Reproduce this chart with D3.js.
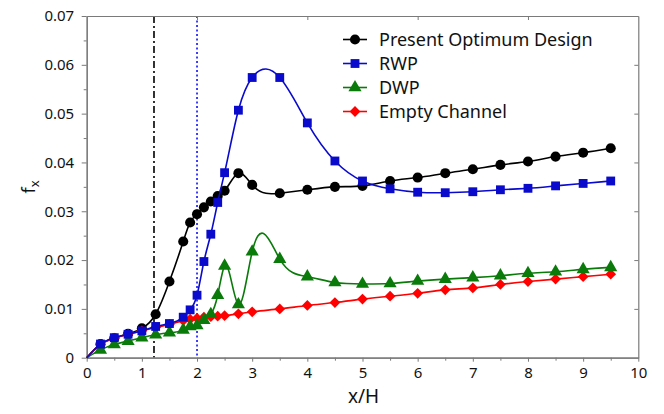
<!DOCTYPE html>
<html><head><meta charset="utf-8">
<script src="https://cdn.jsdelivr.net/npm/d3@7"></script>
<style>body{margin:0;background:#fff}svg{display:block}</style>
</head><body>
<svg id="c" width="664" height="414"></svg>
<script>
// ---- data ----
const xOpt = [0,0.25,0.5,0.75,1,1.25,1.5,1.75,1.875,2,2.125,2.25,2.375,2.5,2.75,3,3.5,4,4.5,5,5.5,6,6.5,7,7.5,8,8.5,9,9.5];
const yOpt = [0,0.0028,0.0040,0.0049,0.0060,0.0089,0.0156,0.0238,0.0277,0.0294,0.0308,0.0320,0.0331,0.0342,0.0378,0.0354,0.0337,0.0344,0.0350,0.0352,0.0362,0.0369,0.0378,0.0386,0.0395,0.0402,0.0412,0.0420,0.0429];
const yRWP = [0,0.0028,0.0041,0.0048,0.0055,0.0064,0.0070,0.0083,0.0098,0.0128,0.0197,0.0253,0.0318,0.0379,0.0507,0.0574,0.0574,0.0481,0.0403,0.0362,0.0346,0.0339,0.0338,0.0340,0.0344,0.0347,0.0352,0.0357,0.0362];
const yDWP = [0,0.0016,0.0027,0.0034,0.0041,0.0047,0.0051,0.0057,0.0064,0.0066,0.0077,0.0089,0.0128,0.0188,0.0109,0.0217,0.0202,0.0166,0.0154,0.0151,0.0152,0.0157,0.0161,0.0164,0.0168,0.0173,0.0176,0.0181,0.0185];
const yEmpty = [0,0.0027,0.0040,0.0048,0.0055,0.0062,0.0068,0.0076,0.0079,0.0081,0.0083,0.0084,0.0085,0.0086,0.0090,0.0094,0.0100,0.0107,0.0113,0.0120,0.0126,0.0132,0.0139,0.0143,0.0150,0.0156,0.0161,0.0166,0.0171];
const seriesNames = ["Present Optimum Design","RWP","DWP","Empty Channel"];
const xTicks = [0,1,2,3,4,5,6,7,8,9,10];
const yTicks = [0,0.01,0.02,0.03,0.04,0.05,0.06,0.07];
const vLineA = 1.22, vLineB = 2.0;

// ---- custom curve: natural cubic spline y(x) ----
function SplineX(context){ this._context = context; }
SplineX.prototype = {
  areaStart(){ this._line = 0; }, areaEnd(){ this._line = NaN; },
  lineStart(){ this._x = []; this._y = []; },
  point(x, y){ this._x.push(+x); this._y.push(+y); },
  lineEnd(){
    const X = this._x, Y = this._y, n = X.length, c = this._context;
    if(!n) return;
    c.moveTo(X[0], Y[0]);
    if(n < 3){ for(let i=1;i<n;i++) c.lineTo(X[i],Y[i]); return; }
    // solve for second derivatives M (natural: M0 = Mn-1 = 0)
    const h = [], a = [], b = [], cc = [], r = [];
    for(let i=0;i<n-1;i++) h[i] = X[i+1]-X[i];
    for(let i=1;i<n-1;i++){
      a[i] = h[i-1]; b[i] = 2*(h[i-1]+h[i]); cc[i] = h[i];
      r[i] = 6*((Y[i+1]-Y[i])/h[i] - (Y[i]-Y[i-1])/h[i-1]);
    }
    const M = new Array(n).fill(0);
    const cp = [], rp = [];
    for(let i=1;i<n-1;i++){
      const den = b[i] - (i>1 ? a[i]*cp[i-1] : 0);
      cp[i] = cc[i]/den;
      rp[i] = (r[i] - (i>1 ? a[i]*rp[i-1] : 0))/den;
    }
    for(let i=n-2;i>=1;i--) M[i] = rp[i] - (i<n-2 ? cp[i]*M[i+1] : 0);
    for(let i=0;i<n-1;i++){
      const hi = h[i];
      const d0 = (Y[i+1]-Y[i])/hi - hi*(2*M[i]+M[i+1])/6;
      const d1 = (Y[i+1]-Y[i])/hi + hi*(M[i]+2*M[i+1])/6;
      c.bezierCurveTo(X[i]+hi/3, Y[i]+d0*hi/3, X[i+1]-hi/3, Y[i+1]-d1*hi/3, X[i+1], Y[i+1]);
    }
  }
};
const curveSplineX = ctx => new SplineX(ctx);

// ---- layout ----
const svg = d3.select("#c");
const L = 86.7, R = 638.3, T = 16, B = 357.7;
const x = d3.scaleLinear().domain([0,10]).range([L,R]);
const y = d3.scaleLinear().domain([0,0.07]).range([B,T]);
const font = "'Noto Sans', sans-serif";
const spine = "#7a7a7a";

// vertical reference lines
svg.append("line").attr("x1",x(vLineA)).attr("x2",x(vLineA)).attr("y1",T).attr("y2",B)
  .attr("stroke","#000").attr("stroke-width",1.6).attr("stroke-dasharray","7,3,2,3");
svg.append("line").attr("x1",x(vLineB)).attr("x2",x(vLineB)).attr("y1",T).attr("y2",B)
  .attr("stroke","#2a2aff").attr("stroke-width",1.8).attr("stroke-dasharray","2,2.5");

// axes
const gB = svg.append("g").attr("transform",`translate(0,${B})`)
  .call(d3.axisBottom(x).tickValues(xTicks).tickFormat(d3.format("d")).tickSize(4).tickSizeOuter(0));
const gBm = svg.append("g").attr("transform",`translate(0,${B})`)
  .call(d3.axisBottom(x).tickValues(d3.range(0.5,10,1)).tickFormat("").tickSize(3).tickSizeOuter(0));
const gL = svg.append("g").attr("transform",`translate(${L},0)`)
  .call(d3.axisLeft(y).tickValues(yTicks).tickFormat(d=>d===0?"0":d3.format(".2f")(d)).tickSize(5).tickSizeOuter(0));
const gLm = svg.append("g").attr("transform",`translate(${L},0)`)
  .call(d3.axisLeft(y).tickValues(d3.range(0.005,0.07,0.01)).tickFormat("").tickSize(3).tickSizeOuter(0));
const gT = svg.append("g").attr("transform",`translate(0,${T})`)
  .call(d3.axisBottom(x).tickValues([2,4,6,8]).tickFormat("").tickSize(4).tickSizeOuter(0));
const gR = svg.append("g").attr("transform",`translate(${R},0)`)
  .call(d3.axisLeft(y).tickValues(yTicks.slice(1,-1)).tickFormat("").tickSize(4).tickSizeOuter(0));
[gB,gBm,gL,gLm,gT,gR].forEach(g=>{
  g.select(".domain").attr("stroke",spine).attr("stroke-width",1.2);
  g.selectAll(".tick line").attr("stroke",spine).attr("stroke-width",1);
  g.selectAll("text").attr("font-family",font).attr("font-size",15).attr("fill","#111");
});
gB.selectAll("text").attr("dy","0.9em");
gL.selectAll("text").attr("dx","-0.3em");

// axis titles
svg.append("text").attr("x",(L+R)/2+1).attr("y",403).attr("text-anchor","middle")
  .attr("font-family",font).attr("font-size",19).attr("fill","#111").text("x/H");
const yt = svg.append("text").attr("transform",`translate(35,${(T+B)/2}) rotate(-90)`)
  .attr("text-anchor","middle").attr("font-family",font).attr("font-size",18).attr("fill","#111");
yt.append("tspan").text("f");
yt.append("tspan").attr("font-size",13).attr("dy","0.3em").text("x");

// series
const colors = ["#000000","#0a0acc","#0a7a0a","#ff0000"];
const shapes = ["circle","square","triangle","diamond"];
const ys = [yOpt,yRWP,yDWP,yEmpty];
function sym(s){
  if(s==="circle") return d3.symbol(d3.symbolCircle,80)();
  if(s==="square") return d3.symbol(d3.symbolSquare,78)();
  if(s==="triangle") return d3.symbol(d3.symbolTriangle,75)();
  return d3.symbol(d3.symbolSquare,58)();
}
const line = d3.line().x(d=>x(d[0])).y(d=>y(d[1])).curve(curveSplineX);
const order = [0,3,2,1];
order.forEach(i=>{
  const pts = xOpt.map((xv,k)=>[xv,ys[i][k]]);
  svg.append("path").datum(pts).attr("d",line).attr("fill","none")
    .attr("stroke",colors[i]).attr("stroke-width",1.6);
  svg.append("g").selectAll("path").data(pts.filter(p=>p[0]>0)).join("path")
    .attr("d",sym(shapes[i]))
    .attr("transform",p=>`translate(${x(p[0])},${y(p[1])})`+(shapes[i]==="diamond"?" rotate(45)":""))
    .attr("fill",colors[i]);
});

// legend
const lg = svg.append("g");
const rowY = [39.5,63.5,87.5,111.5];
seriesNames.forEach((n,i)=>{
  lg.append("line").attr("x1",343).attr("x2",367).attr("y1",rowY[i]).attr("y2",rowY[i])
    .attr("stroke",colors[i]).attr("stroke-width",1.6);
  lg.append("path").attr("d",sym(shapes[i]))
    .attr("transform",`translate(355,${rowY[i]})`+(shapes[i]==="diamond"?" rotate(45)":""))
    .attr("fill",colors[i]);
  lg.append("text").attr("x",379).attr("y",rowY[i]).attr("dy","0.35em")
    .attr("font-family",font).attr("font-size",18).attr("fill","#111").text(n);
});
</script>
</body></html>
